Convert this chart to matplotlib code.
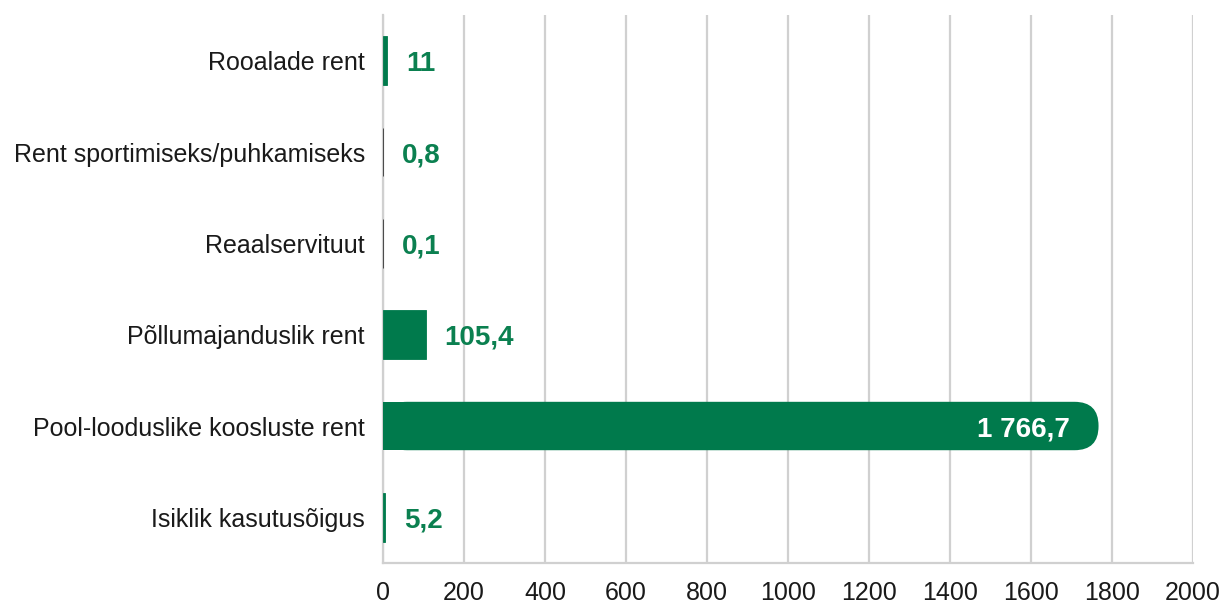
import matplotlib
matplotlib.use("Agg")
import matplotlib.pyplot as plt
from matplotlib.patches import FancyBboxPatch

categories = ["Rooalade rent", "Rent sportimiseks/puhkamiseks", "Reaalservituut",
              "Põllumajanduslik rent", "Pool-looduslike koosluste rent", "Isiklik kasutusõigus"]
values = [11, 0.8, 0.1, 105.4, 1766.7, 5.2]
value_labels = ["11", "0,8", "0,1", "105,4", "1 766,7", "5,2"]
xticks = [0, 200, 400, 600, 800, 1000, 1200, 1400, 1600, 1800, 2000]

GREEN = "#007A4C"
LABEL_GREEN = "#0B8050"
GRID = "#d0d0d0"

plt.rcParams['font.family'] = ['Liberation Sans', 'DejaVu Sans']

fig = plt.figure(figsize=(12.19, 6.05), dpi=100)
ax = fig.add_axes([0.3142, 0.0694, 0.6645, 0.9058])

n = len(categories)
ypos = list(range(n))
bar_h = 0.53

ax.set_xlim(0, 2000)
ax.set_ylim(n - 0.5, -0.5)

def px_per_x():
    return (ax.transData.transform((1000, 0))[0] - ax.transData.transform((0, 0))[0]) / 1000.0
def px_per_y():
    return abs(ax.transData.transform((0, 1))[1] - ax.transData.transform((0, 0))[1])

ppx = px_per_x()
ppy = px_per_y()
radius_px = 24
thresh = 500
for y, v in zip(ypos, values):
    if v > thresh:
        r = radius_px / ppx
        aspect = ppx / ppy
        patch = FancyBboxPatch((0, y - bar_h / 2), v, bar_h,
                               boxstyle=f"round,pad=0,rounding_size={r}",
                               mutation_aspect=aspect,
                               facecolor=GREEN, edgecolor="none", zorder=3)
        ax.add_patch(patch)
        ax.barh(y, v / 2, height=bar_h, color=GREEN, zorder=3)
    else:
        ax.barh(y, v, height=bar_h, color=GREEN, edgecolor=GREEN if v >= 1 else "#333333",
                linewidth=0.6, zorder=3)

for y, v, lab in zip(ypos, values, value_labels):
    if v > thresh:
        ax.text(v - 29 / ppx, y, lab, ha="right", va="center_baseline", color="white",
                fontsize=20, fontweight="bold", zorder=4)
    else:
        ax.text(v + 19 / ppx, y, lab, ha="left", va="center_baseline", color=LABEL_GREEN,
                fontsize=20, fontweight="bold", zorder=4)

ax.set_yticks(ypos)
ax.set_yticklabels(categories, fontsize=18, color="#1a1a1a")
ax.set_xticks(xticks)
ax.set_xticklabels([str(t) for t in xticks], fontsize=18, color="#1a1a1a")
ax.tick_params(axis="both", length=0)
ax.tick_params(axis="y", pad=13)
ax.tick_params(axis="x", pad=13)

ax.xaxis.grid(True, color=GRID, linewidth=1.6, zorder=0)
ax.set_axisbelow(True)
for s in ["top", "right"]:
    ax.spines[s].set_visible(False)
ax.spines["left"].set_color(GRID)
ax.spines["left"].set_linewidth(1.6)
ax.spines["bottom"].set_color(GRID)
ax.spines["bottom"].set_linewidth(1.6)

fig.savefig("out.png", dpi=100)
